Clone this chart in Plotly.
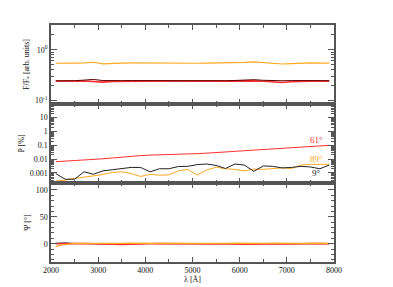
import plotly.graph_objects as go
from plotly.subplots import make_subplots

# Wavelength grid [Å]
wavelength = [2100, 2300, 2500, 2700, 2900, 3100, 3300, 3500, 3700, 3900,
              4100, 4300, 4500, 4700, 4900, 5100, 5300, 5500, 5700, 5900,
              6100, 6300, 6500, 6700, 6900, 7100, 7300, 7500, 7700, 7900]

# Flux (arb. units)
flux_9 = [0.243, 0.242, 0.244, 0.250, 0.258, 0.245, 0.242, 0.244, 0.245, 0.244,
          0.243, 0.244, 0.245, 0.244, 0.243, 0.244, 0.245, 0.244, 0.243, 0.246,
          0.252, 0.255, 0.248, 0.244, 0.243, 0.245, 0.244, 0.243, 0.245, 0.244]
flux_61 = [0.238, 0.236, 0.238, 0.240, 0.236, 0.228, 0.236, 0.238, 0.239, 0.238,
           0.237, 0.238, 0.239, 0.238, 0.237, 0.238, 0.239, 0.238, 0.237, 0.238,
           0.240, 0.242, 0.238, 0.232, 0.224, 0.232, 0.238, 0.239, 0.238, 0.237]
flux_89 = [0.540, 0.535, 0.545, 0.550, 0.565, 0.525, 0.540, 0.545, 0.548, 0.545,
           0.540, 0.543, 0.546, 0.545, 0.542, 0.540, 0.545, 0.548, 0.545, 0.540,
           0.560, 0.575, 0.555, 0.540, 0.522, 0.530, 0.545, 0.548, 0.545, 0.542]

# Polarization P [%]
pol_9 = [0.0009, 0.00035, 0.00035, 0.0012, 0.0008, 0.0014, 0.0017, 0.0021, 0.0025, 0.0025,
         0.0012, 0.0020, 0.0020, 0.0029, 0.0030, 0.0040, 0.0044, 0.0035, 0.0021, 0.0044,
         0.0037, 0.0013, 0.0032, 0.0030, 0.0023, 0.0025, 0.0030, 0.0027, 0.0020, 0.0037]
pol_61 = [0.0065, 0.0070, 0.0078, 0.0085, 0.0095, 0.0105, 0.0120, 0.0140, 0.0160, 0.0180,
          0.0195, 0.0200, 0.0210, 0.0220, 0.0235, 0.0250, 0.0270, 0.0300, 0.0330, 0.0370,
          0.0400, 0.0430, 0.0470, 0.0550, 0.0630, 0.0700, 0.0770, 0.0830, 0.0900, 0.1000]
pol_89 = [0.00026, 0.0003, 0.0004, 0.0005, 0.0006, 0.00076, 0.0011, 0.0012, 0.0009, 0.00055,
          0.0008, 0.00068, 0.00073, 0.0014, 0.0018, 0.0007, 0.0016, 0.0026, 0.0020, 0.0018,
          0.0014, 0.0019, 0.0018, 0.0021, 0.0023, 0.0021, 0.0037, 0.0042, 0.0042, 0.0042]

# Polarization angle Psi [deg]
psi_9 = [1.0, 1.5, 0.5, 0.0, 0.5, 0.0, -0.5, -0.5, 0.0, 0.5,
         0.5, 0.0, 0.0, 0.5, 0.0, 0.0, 0.5, 0.0, 0.0, 0.5,
         0.5, 1.0, 0.5, 0.0, 0.0, 0.5, 0.0, 0.0, 0.5, 0.0]
psi_61 = [0.0, 0.5, 0.0, 0.5, 0.0, 0.0, -1.0, -1.5, -1.0, 0.0,
          0.0, 0.5, 0.0, 0.0, -0.5, 0.0, 0.0, 0.5, 0.0, -0.5,
          -1.0, -0.5, 0.0, 0.5, 0.0, -0.5, 0.0, 0.0, 0.5, 0.0]
psi_89 = [-5.0, -1.5, 0.5, 1.0, 0.5, 0.5, 0.0, 0.5, 1.0, 0.5,
          0.0, 0.5, 1.0, 0.5, 0.0, 0.5, 0.5, 0.0, 0.5, 1.0,
          0.5, 0.0, 0.5, 1.0, 0.5, 0.0, 0.5, 1.0, 0.5, 0.5]

x_ticks = [2000, 3000, 4000, 5000, 6000, 7000, 8000]

RED = "#ff3030"
ORANGE = "#ffa820"
BLACK = "#222222"
AX = "#555555"
TXT = "#111111"
FONT = "Liberation Serif"

fig = make_subplots(rows=3, cols=1, shared_xaxes=True, vertical_spacing=0)

def add(row, y, color, width=1.0):
    fig.add_trace(go.Scatter(x=wavelength, y=y, mode="lines",
                             line=dict(color=color, width=width),
                             showlegend=False), row=row, col=1)

# Row 1
add(1, flux_61, RED, 1.6)
add(1, flux_9, "#5a0000", 1.0)
add(1, flux_89, ORANGE, 1.2)
# Row 2
add(2, pol_89, ORANGE)
add(2, pol_9, BLACK)
add(2, pol_61, RED)
# Row 3
add(3, psi_9, BLACK)
add(3, psi_61, RED, 1.4)
add(3, psi_89, ORANGE, 1.2)

common_axis = dict(showline=True, linecolor=AX, linewidth=1.5, mirror="allticks",
                   ticks="inside", tickcolor=AX, showgrid=False, zeroline=False,
                   tickfont=dict(family=FONT, size=8, color=TXT))

for r in (1, 2, 3):
    fig.update_xaxes(range=[2000, 8000], tickvals=x_ticks, ticklen=5, tickwidth=1,
                     minor=dict(ticks="inside", dtick=500, tick0=2000, ticklen=3, tickcolor=AX),
                     showticklabels=(r == 3), row=r, col=1, **common_axis)

fig.update_xaxes(title=dict(text="λ [Å]", font=dict(family=FONT, size=8, color=TXT), standoff=2),
                 row=3, col=1)

def log_minor(lo, hi):
    vals = []
    for e in range(lo, hi):
        for m in range(2, 10):
            vals.append(m * 10 ** e)
    return vals

fig.update_yaxes(type="log", range=[-1.075, 0.49],
                 tickvals=[0.1, 1], ticktext=["10<sup>-1</sup>", "10<sup>0</sup>"],
                 ticklen=6, minor=dict(ticks="inside", tickmode="array",
                                       tickvals=log_minor(-2, 1), ticklen=3, tickcolor=AX),
                 title=dict(text="F/F<sub>*</sub> [arb. units]", font=dict(family=FONT, size=8, color=TXT), standoff=4),
                 row=1, col=1, **common_axis)

fig.update_yaxes(type="log", range=[-3.73, 1.99],
                 tickvals=[0.001, 0.01, 0.1, 1, 10], ticktext=["0.001", "0.01", "0.1", "1", "10"],
                 ticklen=6, minor=dict(ticks="inside", tickmode="array",
                                       tickvals=log_minor(-4, 2), ticklen=3, tickcolor=AX),
                 title=dict(text="P [%]", font=dict(family=FONT, size=8, color=TXT), standoff=4),
                 row=2, col=1, **common_axis)

fig.update_yaxes(range=[-34, 113], tickvals=[0, 50, 100], ticklen=6,
                 minor=dict(ticks="inside", dtick=10, tick0=0, ticklen=3, tickcolor=AX),
                 title=dict(text="Ψ [°]", font=dict(family=FONT, size=8, color=TXT), standoff=4),
                 row=3, col=1, **common_axis)

labels = [("61°", RED, -0.634), ("89°", ORANGE, -1.99), ("9°", BLACK, -3.0)]
for txt, col, yy in labels:
    fig.add_annotation(x=7620, y=yy, xref="x2", yref="y2", text=txt, showarrow=False,
                       font=dict(family=FONT, size=9, color=col))

fig.update_layout(width=393, height=287, margin=dict(l=31, r=67, t=17, b=22),
                  plot_bgcolor="white", paper_bgcolor="white",
                  font=dict(family=FONT, size=8, color=TXT))

fig.write_html("out.html")
